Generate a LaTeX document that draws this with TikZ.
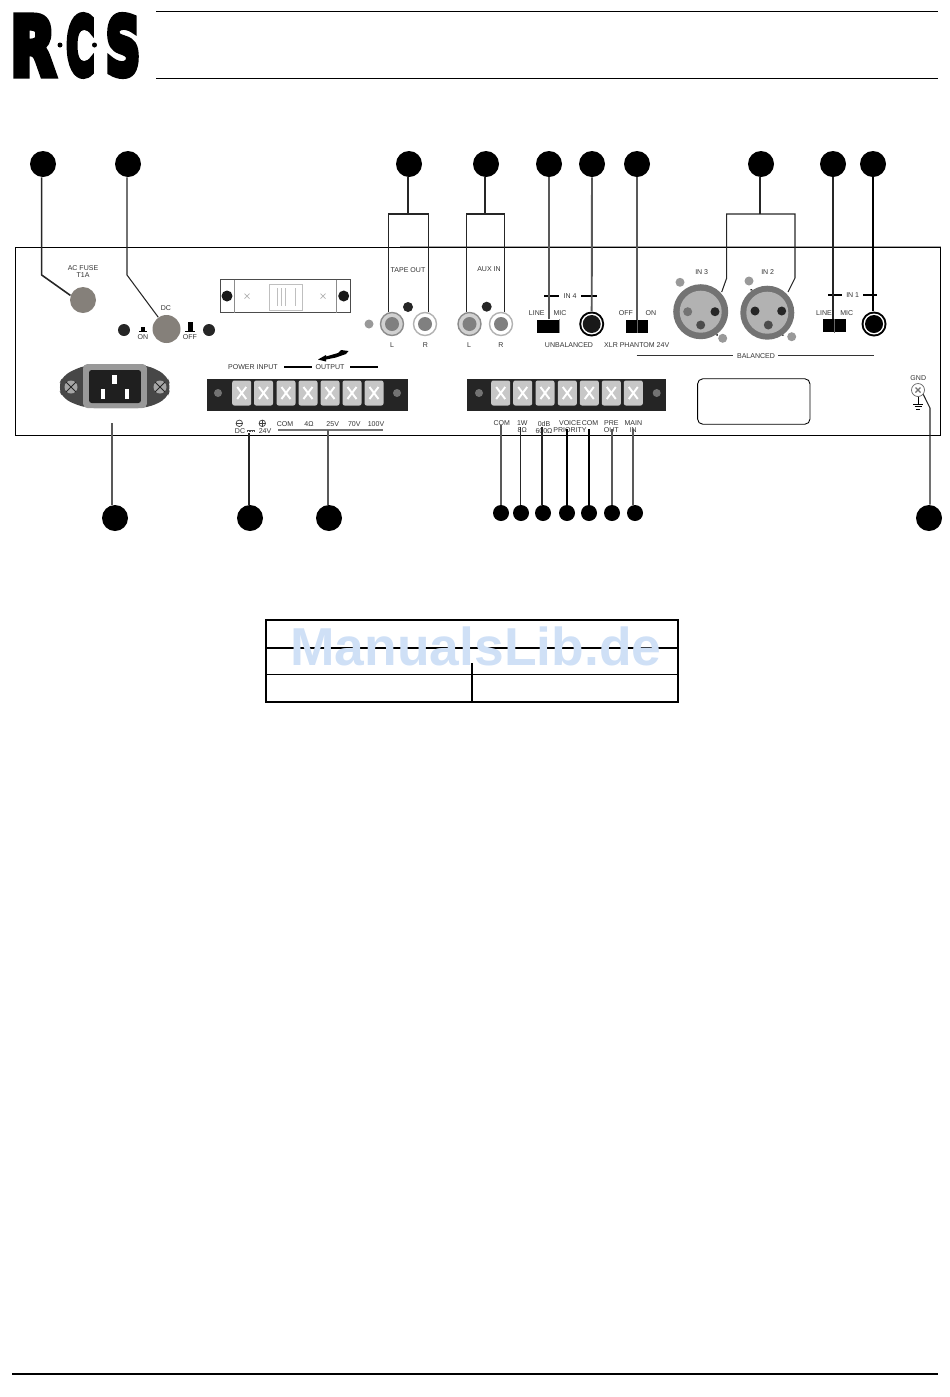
\documentclass[tikz,border=0pt]{standalone}
\usepackage{graphicx}
\usepackage{fontspec}
\setmainfont{Liberation Sans}
\newfontfamily\logofont[FakeBold=9]{DejaVu Sans Bold}
\usetikzlibrary{positioning}
\definecolor{wmblue}{HTML}{CFE0F6}
\definecolor{knob}{HTML}{85807A}
\definecolor{strip}{HTML}{252525}
\tikzset{
	disc/.style={circle,inner sep=0pt,minimum size=#1*0.02cm,fill=black},
	callout/.style={disc=26},
	calloutsmall/.style={disc=16},
	lbl/.style={inner sep=0pt,align=center,text=black!80,font=\fontsize{4}{4}\selectfont},
	lead/.style={line width=0.6pt,black!85},
	leadgray/.style={line width=1.1pt,black!65},
	leadbold/.style={line width=1.3pt,black},
	bar/.style={line width=1.2pt,black},
	tile/.style={fill=black!22,rounded corners=1.2pt,inner sep=0pt,minimum width=0.38cm,minimum height=0.5cm},
	switchbox/.style={fill=black,inner sep=0pt,minimum width=0.45cm,minimum height=0.26cm},
	screwgray/.style={disc=9,fill=black!40},
	screwlight/.style={disc=13,fill=black!35},
	pin/.style={fill=white,inner sep=0pt},
	rcadark/.style={disc=23,draw=black!45,fill=black!18,line width=0.8pt},
	rcawhite/.style={disc=23,draw=black!30,fill=white,line width=0.8pt},
	rcacore/.style={disc=14,fill=black!50}
}
\begin{document}
\begin{tikzpicture}[x=0.02cm,y=-0.02cm]
	\useasboundingbox (0,0) rectangle (950,1397);
	% logo and page rules
	\node (logoR) [inner sep=0pt] at (33,45.5) {\resizebox{25.5pt}{33.5pt}{\logofont R}};
	\node (logoC) [inner sep=0pt] at (80.5,45.5) {\resizebox{16pt}{33.5pt}{\logofont C}};
	\node (logoS) [inner sep=0pt] at (123,45.5) {\resizebox{19.5pt}{33.5pt}{\logofont S}};
	\node (logoA) [disc=5,fill=black] at (60,45) {};
	\node (logoB) [disc=5,fill=black] at (94.5,45) {};
	\draw[line width=0.6pt] (156,11.3) -- (938,11.3);
	\draw[line width=0.6pt] (156,78.7) -- (938,78.7);
	\draw[line width=1.4pt] (12,1374) -- (938,1374);
	% panel
	\draw[black!35,line width=0.6pt] (400,246.4) -- (941,246.4);
	\node (panel) [draw,line width=0.5pt,inner sep=0pt,minimum width=18.5cm,minimum height=3.76cm] at (478,341) {};
	% fuse and dc breaker
	\node (fuse) [disc=26,fill=knob] at (83,300) {};
	\node (tFuse) [lbl] at (83,271.5) {AC FUSE\\T1A};
	\node (breaker) [disc=28,fill=knob] at (166.5,329) {};
	\node (tDC) [lbl] at (166,308) {DC};
	\node (scrA) [disc=12,fill=black!85] at (124,330) {};
	\node (scrB) [disc=12,fill=black!85] at (209,330) {};
	\node (tOn) [lbl] at (143,337) {ON};
	\node (tOff) [lbl] at (190,337) {OFF};
	\fill (139,331) rectangle (147,332);
	\fill (141,326.5) rectangle (145,331);
	\fill (185,331) rectangle (195,332);
	\fill (187.5,322) rectangle (192.5,331);
	% mains switch plate
	\node (plate) [draw=black!70,line width=0.5pt,inner sep=0pt,minimum width=2.61cm,minimum height=0.67cm] at (285.5,296) {};
	\draw[black!45,line width=0.8pt] (234.3,279.5) -- (234.3,312.5);
	\draw[black!45,line width=0.8pt] (336.7,279.5) -- (336.7,312.5);
	\node (scrC) [disc=11,fill=black!90] at (227,296) {};
	\node (scrD) [disc=11,fill=black!90] at (343.7,296) {};
	\node (rocker) [draw=black!25,inner sep=0pt,minimum width=0.67cm,minimum height=0.52cm] at (286,297) {};
	\draw[black!25] (277,288) -- (277,306) (281,288) -- (281,306) (285,288) -- (285,306) (295,288) -- (295,306);
	\draw[black!30] (244.5,293.5) -- (249.5,298.5) (244.5,298.5) -- (249.5,293.5);
	\draw[black!30] (320.5,293.5) -- (325.5,298.5) (320.5,298.5) -- (325.5,293.5);
	% rca jacks
	\node (tTape) [lbl] at (408,270) {TAPE OUT};
	\node (scrE) [disc=10,fill=black!85] at (408,307) {};
	\node (scrF) [screwgray] at (369,324) {};
	\node (rcaA) [rcadark] at (392,324) {};
	\node (rcaAin) [rcacore] at (392,324) {};
	\node (rcaB) [rcawhite] at (425,324) {};
	\node (rcaBin) [rcacore] at (425,324) {};
	\node (tLa) [lbl] at (392,345) {L};
	\node (tRa) [lbl] at (425.5,345) {R};
	\node (tAux) [lbl] at (489,269) {AUX IN};
	\node (scrG) [disc=10,fill=black!85] at (486.7,306.7) {};
	\node (rcaC) [rcadark] at (469.5,324) {};
	\node (rcaCin) [rcacore] at (469.5,324) {};
	\node (rcaD) [rcawhite] at (501,324) {};
	\node (rcaDin) [rcacore] at (501,324) {};
	\node (tLb) [lbl] at (469,345) {L};
	\node (tRb) [lbl] at (501,345) {R};
	% input 4
	\draw[bar] (544,295.7) -- (559,295.7);
	\draw[bar] (581,295.7) -- (596.7,295.7);
	\node (tIn4) [lbl] at (570,295.7) {IN 4};
	\node (tLineA) [lbl] at (536.7,313) {LINE};
	\node (tMicA) [lbl] at (560,313) {MIC};
	\node (swA) [switchbox] at (548,326.3) {};
	\draw[black!45,line width=0.8pt] (swA.north east) -- (swA.south east);
	\node (jackA) [disc=25,fill=black] at (591.7,324) {};
	\node (jackAw) [disc=21,fill=white] at (591.7,324) {};
	\node (jackAb) [disc=18,fill=black!90] at (591.7,324) {};
	\node (tUnbal) [lbl] at (569,344.7) {UNBALANCED};
	\node (tPhantom) [lbl] at (636.7,344.7) {XLR PHANTOM 24V};
	\node (tOffB) [lbl] at (626,313) {OFF};
	\node (tOnB) [lbl] at (651,313) {ON};
	\node (swB) [switchbox] at (637,326.5) {};
	\draw[black!60,line width=0.4pt] (swB.north) -- (swB.south);
	% xlr inputs
	\node (xlrA) [disc=55,fill=black!55] at (700.7,311.7) {};
	\node (xlrAin) [disc=42,fill=black!30] at (700.7,311.7) {};
	\node (xlrB) [disc=54,fill=black!55] at (767.3,312.7) {};
	\node (xlrBin) [disc=42,fill=black!30] at (767.3,312.7) {};
	\draw[line width=1pt,dash pattern=on 1.2pt off 0.8pt] (xlrA.-55) arc (-55:55:27*0.02);
	\draw[line width=1pt,dash pattern=on 1.2pt off 0.8pt] (xlrB.125) arc (125:235:27*0.02);
	\draw[line width=1pt,dash pattern=on 1.2pt off 0.8pt] (xlrB.-55) arc (-55:0:27*0.02);
	\node (pinA) [disc=9,fill=black!55] at (687.7,311.7) {};
	\node (pinB) [disc=9,fill=black!85] at (715,311.7) {};
	\node (pinC) [disc=9,fill=black!70] at (700.7,325) {};
	\node (pinD) [disc=9,fill=black!85] at (755,311) {};
	\node (pinE) [disc=9,fill=black!85] at (781.7,311) {};
	\node (pinF) [disc=9,fill=black!70] at (768.3,325) {};
	\node (scrH) [screwgray] at (680,282.3) {};
	\node (scrI) [screwgray] at (722.7,338.3) {};
	\node (scrJ) [screwgray] at (749,281) {};
	\node (scrK) [screwgray] at (791.7,336.7) {};
	\node (tIn3) [lbl] at (701.7,271.7) {IN 3};
	\node (tIn2) [lbl] at (767.7,271.7) {IN 2};
	\node (tBal) [lbl] at (756,355.7) {BALANCED};
	\draw[line width=0.7pt,black!80] (636.7,355.7) -- (732.7,355.7);
	\draw[line width=0.7pt,black!80] (778,355.7) -- (874,355.7);
	% input 1
	\draw[bar] (828,295.3) -- (842,295.3);
	\draw[bar] (863,295.3) -- (876.7,295.3);
	\node (tIn1) [lbl] at (852.7,295.3) {IN 1};
	\node (tLineB) [lbl] at (824,313) {LINE};
	\node (tMicB) [lbl] at (846.7,313) {MIC};
	\node (swC) [switchbox] at (834.7,325.7) {};
	\draw[black!60,line width=0.4pt] (swC.north) -- (swC.south);
	\node (jackB) [disc=25,fill=black] at (874,324) {};
	\node (jackBw) [disc=21,fill=white] at (874,324) {};
	\node (jackBb) [disc=18,fill=black] at (874,324) {};
	% mains inlet
	\fill[black!72,rounded corners=5pt] (85,365) -- (63,375) -- (58,387) -- (63,399) -- (85,408) -- (147,408) -- (167,399) -- (171,387) -- (167,375) -- (147,365) -- cycle;
	\node (inlet) [fill=black!40,rounded corners=2.5pt,inner sep=0pt,minimum width=1.28cm,minimum height=0.88cm] at (115,386) {};
	\node (inletin) [fill=black!88,rounded corners=1.5pt,inner sep=0pt,minimum width=1.04cm,minimum height=0.66cm] at (115,386.5) {};
	\node (pinG) [pin,minimum width=0.1cm,minimum height=0.19cm] at (114.5,379.5) {};
	\node (pinH) [pin,minimum width=0.08cm,minimum height=0.19cm] at (103,394) {};
	\node (pinI) [pin,minimum width=0.08cm,minimum height=0.19cm] at (127,394) {};
	\node (scrL) [screwlight] at (71,387) {};
	\node (scrM) [screwlight] at (160,387) {};
	\draw[black!85,line width=0.5pt] (scrL.45) -- (scrL.225) (scrL.135) -- (scrL.-45);
	\draw[black!85,line width=0.5pt] (scrM.45) -- (scrM.225) (scrM.135) -- (scrM.-45);
	% terminal strips
	\node (stripA) [fill=strip,inner sep=0pt,minimum width=4.02cm,minimum height=0.64cm] at (307.5,395) {};
	\node (stripB) [fill=strip,inner sep=0pt,minimum width=3.98cm,minimum height=0.64cm] at (566.5,395) {};
	\node (scrN) [disc=8,fill=black!55] at (218,393) {};
	\node (scrO) [disc=8,fill=black!55] at (397,393) {};
	\node (scrP) [disc=8,fill=black!55] at (479,393) {};
	\node (scrQ) [disc=8,fill=black!55] at (656.7,393) {};
	\foreach \name/\x in {a/241.7,b/263.5,c/286,d/308,e/330,f/352,g/374,h/500.7,i/522.7,j/545,k/567.3,l/589.3,m/611.3,n/633.3} {
		\node (tile\name) [tile] at (\x,393) {};
		\draw[white,line width=1.1pt] (tile\name.center) ++(-4.5,-6) -- ++(9,12);
		\draw[white,line width=1.1pt] (tile\name.center) ++(4.5,-6) -- ++(-9,12);
	}
	% strip captions
	\node (tPower) [lbl] at (253,366.7) {POWER INPUT};
	\node (tOutput) [lbl] at (330,366.7) {OUTPUT};
	\draw[bar] (284,366.7) -- (311.7,366.7);
	\draw[bar] (350,366.7) -- (378,366.7);
	\fill (318,359.5) -- (326,355) -- (326,356.5) -- (338,353) -- (341,350) -- (348.5,351) -- (346,354) -- (336,357.5) -- (326,359.5) -- (326,361.5) -- cycle;
	\node (tMinus) [disc=6.5,fill=none,draw=black!75,line width=0.4pt] at (239.3,423.3) {};
	\node (tPlus) [disc=6.5,fill=none,draw=black!75,line width=0.4pt] at (262.3,423.3) {};
	\draw[black!75,line width=0.3pt] (tMinus.west) -- (tMinus.east) (tPlus.west) -- (tPlus.east) (tPlus.north) -- (tPlus.south);
	\node (tDCb) [lbl] at (240,431) {DC};
	\node (tVolt) [lbl] at (265,431) {24V};
	\draw[black!70,line width=0.3pt] (247,429.8) -- (255,429.8);
	\draw[black!70,line width=0.3pt,dash pattern=on 0.8pt off 0.5pt] (247,431.6) -- (255,431.6);
	\node (tCom) [lbl] at (285,424) {COM};
	\node (tOhm) [lbl] at (309,424) {4Ω};
	\node (tV25) [lbl] at (332.7,424) {25V};
	\node (tV70) [lbl] at (354.3,424) {70V};
	\node (tV100) [lbl] at (376,424) {100V};
	\draw[black!55,line width=0.7pt] (278,430) -- (382.7,430);
	\node (tComB) [lbl] at (501.7,423.5) {COM};
	\node (tWatt) [lbl] at (522.3,427) {1W\\8Ω};
	\node (tZero) [lbl] at (544,427) {0dB\\600Ω};
	\node (tVoice) [lbl] at (570,427) {VOICE\\PRIORITY};
	\node (tComC) [lbl] at (590,423.5) {COM};
	\node (tPre) [lbl] at (611.3,427) {PRE\\OUT};
	\node (tMain) [lbl] at (633.3,427) {MAIN\\IN};
	% label plate and earth
	\node (labelbox) [draw,line width=0.5pt,rounded corners=3pt,inner sep=0pt,minimum width=2.25cm,minimum height=0.91cm] at (753.8,401.5) {};
	\node (tGnd) [lbl] at (918.3,378) {GND};
	\node (earth) [disc=13,fill=white,draw=black!60,line width=0.4pt] at (918,390) {};
	\draw[black!55,line width=0.7pt] (915.5,387.5) -- (920.5,392.5) (915.5,392.5) -- (920.5,387.5);
	\draw[line width=0.5pt] (earth.south) -- (918,404);
	\draw[line width=0.5pt] (913,404) -- (923,404) (914.5,406.5) -- (921.5,406.5) (916,409) -- (920,409);
	% callouts on top
	\node (B1) [callout] at (43,164) {};
	\node (B2) [callout] at (128,164) {};
	\node (B3) [callout] at (409,164) {};
	\node (B4) [callout] at (486,164) {};
	\node (B5) [callout] at (549,164) {};
	\node (B6) [callout] at (592,164) {};
	\node (B7) [callout] at (637,164) {};
	\node (B8) [callout] at (761,164) {};
	\node (B9) [callout] at (833,164) {};
	\node (B10) [callout] at (873,164) {};
	% callouts below
	\node (B11) [callout] at (115,518) {};
	\node (B12) [callout] at (250,518) {};
	\node (B13) [callout] at (329,518) {};
	\node (B14) [calloutsmall] at (501,513) {};
	\node (B15) [calloutsmall] at (521,513) {};
	\node (B16) [calloutsmall] at (543,513) {};
	\node (B17) [calloutsmall] at (567,513) {};
	\node (B18) [calloutsmall] at (589,513) {};
	\node (B19) [calloutsmall] at (612,513) {};
	\node (B20) [calloutsmall] at (635,513) {};
	\node (B21) [callout] at (929,518) {};
	% free ends of the leaders
	\coordinate (bendA) at (41.7,275);
	\coordinate (bendB) at (127,275);
	\coordinate (forkA) at (408,214);
	\coordinate (forkAl) at (388.5,214);
	\coordinate (forkAr) at (428.5,214);
	\coordinate (forkB) at (485,214);
	\coordinate (forkBl) at (466.5,214);
	\coordinate (forkBr) at (504.5,214);
	\coordinate (forkC) at (760,214);
	\coordinate (forkCl) at (726.7,214);
	\coordinate (forkCr) at (795,214);
	\coordinate (kneeA) at (726.7,278);
	\coordinate (kneeB) at (795,278);
	\coordinate (endA) at (721.7,292);
	\coordinate (endB) at (788,292);
	\coordinate (endC) at (112,423);
	\coordinate (endD) at (249,433);
	\coordinate (endE) at (328,430);
	\coordinate (endF) at (500.7,425);
	\coordinate (endG) at (520.7,427);
	\coordinate (endH) at (542,427);
	\coordinate (endI) at (567,429);
	\coordinate (endJ) at (588.7,429);
	\coordinate (endK) at (611.7,429);
	\coordinate (endL) at (633,429);
	\coordinate (kneeC) at (930,408);
	% leaders
	\draw[lead,line width=0.9pt] (bendA |- B1.south) -- (bendA) -- (fuse.160);
	\draw[lead] (bendB |- B2.south) -- (bendB) -- (breaker.125);
	\draw[lead] (forkA |- B3.south) -- (forkA);
	\draw[lead] (forkAl |- rcaA.north) -- (forkAl) -- (forkAr) -- (forkAr |- rcaB.north);
	\draw[lead] (forkB |- B4.south) -- (forkB);
	\draw[lead] (forkBl |- rcaC.north) -- (forkBl) -- (forkBr) -- (forkBr |- rcaD.north);
	\draw[leadgray] (swA.north -| B5) -- (B5.south);
	\draw[leadgray] (jackA.north) -- (B6.south);
	\draw[leadgray] (swB.north -| B7) -- (B7.south);
	\draw[lead] (forkC |- B8.south) -- (forkC);
	\draw[lead] (endA) -- (kneeA) -- (forkCl) -- (forkCr) -- (kneeB) -- (endB);
	\draw[lead] (swC.north -| B9) -- (B9.south);
	\draw[leadbold] (jackB.north -| B10) -- (B10.south);
	\draw[leadgray] (endC) -- (endC |- B11.north);
	\draw[lead] (endD) -- (endD |- B12.north);
	\draw[leadgray] (endE) -- (endE |- B13.north);
	\draw[leadgray] (endF) -- (endF |- B14.north);
	\draw[lead,line width=0.8pt] (endG) -- (endG |- B15.north);
	\draw[lead,line width=0.8pt] (endH) -- (endH |- B16.north);
	\draw[leadbold] (endI) -- (endI |- B17.north);
	\draw[leadbold] (endJ) -- (endJ |- B18.north);
	\draw[leadgray] (endK) -- (endK |- B19.north);
	\draw[leadgray] (endL) -- (endL |- B20.north);
	\draw[lead] (kneeC |- B21.north) -- (kneeC) -- (earth.-40);
	% table
	\node (table) [draw,line width=1.1pt,inner sep=0pt,minimum width=8.24cm,minimum height=1.64cm] at (472,661) {};
	\draw[line width=1.1pt] (table.west |- 0,647.7) -- (table.east |- 0,647.7);
	\draw[line width=1.1pt] (table.west |- 0,674.5) -- (table.east |- 0,674.5);
	\draw[line width=1.1pt] (472,663) -- (table.south);
	\node (wm) [inner sep=0pt,text=wmblue,anchor=base west,font=\fontsize{30.4}{30.4}\selectfont\bfseries] at (290,665) {ManualsLib.de};
\end{tikzpicture}
\end{document}
